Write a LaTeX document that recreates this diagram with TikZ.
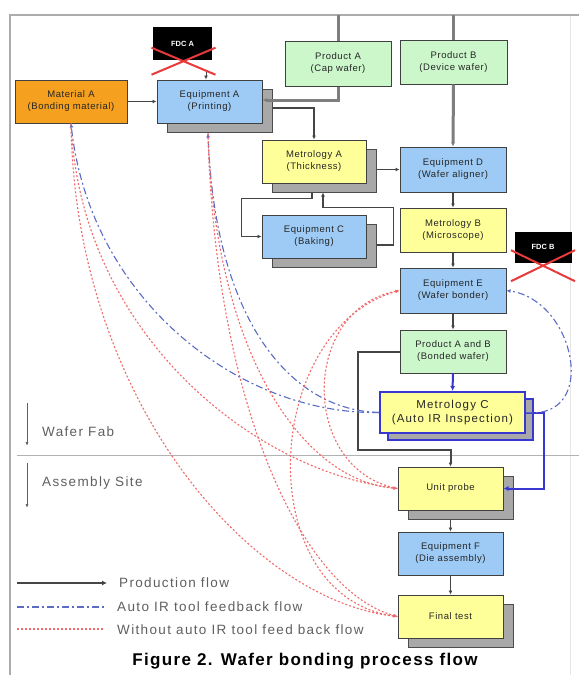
\documentclass[tikz,border=0pt]{standalone}
\usepackage{fontspec}
\setmainfont{Liberation Sans}
\newfontfamily\lsfont[LetterSpace=6]{Liberation Sans}
\newfontfamily\mcfont[LetterSpace=10]{Liberation Sans}
\newfontfamily\lgfont[LetterSpace=10]{Liberation Sans}
\newfontfamily\capfont[LetterSpace=8]{Liberation Sans}
\usetikzlibrary{arrows.meta,shadows}
\definecolor{borange}{HTML}{F5A01E}
\definecolor{bblue}{HTML}{9DCBF5}
\definecolor{bgreen}{HTML}{CBF7CB}
\definecolor{byellow}{HTML}{FFFF99}
\definecolor{sgray}{HTML}{A8A8A8}
\definecolor{prod}{HTML}{454545}
\definecolor{pgray}{HTML}{7E7E7E}
\definecolor{irblue}{HTML}{3838D0}
\definecolor{fbblue}{HTML}{5C6CC4}
\definecolor{fbred}{HTML}{F06A6A}
\definecolor{xred}{HTML}{E83A3A}
\definecolor{txtgray}{HTML}{606060}
\begin{document}
\begin{tikzpicture}[x=1pt,y=-1pt,
  box/.style={draw=black!75, line width=1pt, minimum width=105pt, minimum height=43pt,
    inner sep=1pt, align=center, font=\lsfont\fontsize{9.5}{12}\selectfont, text=black!85},
  shad/.style={general shadow={shadow xshift=10pt, shadow yshift=-9pt, fill=sgray, draw=black!70, line width=1pt}},
  fdc/.style={fill=black, draw=black, minimum width=58pt, minimum height=32pt, inner sep=0pt,
    text=white, font=\bfseries\fontsize{7.5}{8}\selectfont},
  pflow/.style={draw=prod, line width=1.4pt, -{Latex[length=4pt,width=4pt]}},
  pthick/.style={draw=pgray, line width=3pt},
  irflow/.style={draw=irblue, line width=2pt, -{Latex[length=5pt,width=5pt]}},
  fbb/.style={draw=fbblue, line width=1.1pt, dash pattern=on 7pt off 3pt on 2pt off 3pt,
    -{Latex[length=4pt,width=4pt]}},
  fbr/.style={draw=fbred, line width=1.1pt, dash pattern=on 2pt off 2pt,
    -{Latex[length=4pt,width=3.5pt]}},
  xmark/.style={draw=xred, line width=2pt},
  lgtext/.style={anchor=west, text=txtgray, font=\lgfont\fontsize{13.5}{15}\selectfont, inner sep=0pt},
  regtext/.style={anchor=west, text=txtgray, font=\lgfont\fontsize{13.5}{15}\selectfont, inner sep=0pt},
  regarrow/.style={draw=txtgray, line width=1pt, -{Latex[length=4pt,width=3pt]}}
]
\useasboundingbox (0,0) rectangle (579,675);
\fill[white] (0,0) rectangle (579,675);
% frame
\draw[gray!65, line width=2pt] (10,675) -- (10,15) -- (579,15);
\draw[gray!20, line width=1pt] (570,16) -- (570,675);
% separator
\draw[gray!60, line width=0.8pt] (17,455) -- (579,455);

% nodes
\node[box, fill=borange, minimum width=112pt] (matA) at (71,101.5) {Material A\\(Bonding material)};
\node[box, shad, fill=bblue] (eqA) at (209.5,101.5) {Equipment A\\(Printing)};
\node[fdc] (fdcA) at (182.5,43.5) {FDC A};
\node[box, fill=bgreen, minimum width=106pt, minimum height=45pt] (prA) at (338,63.5) {Product A\\(Cap wafer)};
\node[box, fill=bgreen, minimum width=107pt, minimum height=44pt] (prB) at (453.5,62) {Product B\\(Device wafer)};
\node[box, shad, fill=byellow, minimum width=104pt] (metA) at (314,161.5) {Metrology A\\(Thickness)};
\node[box, fill=bblue, minimum width=106pt, minimum height=45pt] (eqD) at (453,169.5) {Equipment D\\(Wafer aligner)};
\node[box, shad, fill=bblue, minimum width=104pt] (eqC) at (314,236.5) {Equipment C\\(Baking)};
\node[box, fill=byellow, minimum width=106pt, minimum height=44pt] (metB) at (453,230) {Metrology B\\(Microscope)};
\node[fdc, minimum width=56pt, minimum height=30pt] (fdcB) at (543,247) {FDC B};
\node[box, fill=bblue, minimum width=106pt, minimum height=45pt] (eqE) at (453,290.5) {Equipment E\\(Wafer bonder)};
\node[box, fill=bgreen, minimum width=106pt] (prAB) at (453,351.5) {Product A and B\\(Bonded wafer)};
\node[box, fill=byellow, draw=irblue, line width=2pt, minimum width=145pt, minimum height=41pt,
  font=\mcfont\fontsize{11.5}{14}\selectfont,
  general shadow={shadow xshift=8pt, shadow yshift=-7pt, fill=sgray, draw=irblue, line width=1.5pt}]
  (metC) at (452.5,412.5) {Metrology C\\(Auto IR Inspection)};
\node[box, shad, fill=byellow] (unit) at (450.5,488.5) {Unit probe};
\node[box, fill=bblue] (eqF) at (450.5,553.5) {Equipment F\\(Die assembly)};
\node[box, shad, fill=byellow] (final) at (450.5,616.5) {Final test};

% red crosses over FDC boxes
\draw[xmark] ([shift={(-31,-12)}]fdcA.south) -- ([shift={(33,15)}]fdcA.south)
             ([shift={(-31,15)}]fdcA.south) -- ([shift={(33,-12)}]fdcA.south);
\draw[xmark] ([shift={(-32,-12)}]fdcB.south) -- ([shift={(32,19)}]fdcB.south)
             ([shift={(-32,19)}]fdcB.south) -- ([shift={(32,-12)}]fdcB.south);

% feed lines from the top
\coordinate (topA) at (338,15);
\coordinate (topB) at (453.5,15);
\draw[pthick] (topA) -- (prA.north);
\draw[pthick] (topB) -- (prB.north);

% production flow
\draw[pflow] (matA.east) -- (eqA.west);
\coordinate (fdcAend) at (206,72);
\draw[pflow, line width=1pt] (fdcAend) -- (eqA.north -| fdcAend);
\draw[pthick, -{Latex[length=4pt,width=4pt]}] (prA.south) |- ([shift={(0,-1.5)}]eqA.east);
\draw[pflow] ([shift={(10,6.5)}]eqA.east) -| (metA.north);
\draw[pthick, -{Latex[length=4pt,width=4pt]}] (prB.south) -- (eqD.north);
\coordinate (metAs) at ([xshift=10pt]metA.east);
\draw[pflow] (metAs |- eqD.west) -- (eqD.west);
\draw[pflow] ([shift={(-2,9)}]metA.south) -- ++(0,6) -| ([xshift=-20pt]eqC.west) -- (eqC.west);
\draw[pflow] ([shift={(10,8.5)}]eqC.east) -- ++(17,0) |- ([shift={(9,24)}]metA.south) -- ([shift={(9,9)}]metA.south);
\draw[pflow] (eqD.south) -- (metB.north);
\draw[pflow] (metB.south) -- (eqE.north);
\draw[pflow] (eqE.south) -- (prAB.north);
\draw[pflow, line width=2pt] (prAB.west) -- ++(-42,0) |- ([shift={(0,-17)}]unit.north) -- (unit.north);
\draw[pflow] ([yshift=-9pt]unit.south) -- (eqF.north);
\draw[pflow] (eqF.south) -- (final.north);

% auto IR flow
\draw[irflow] (prAB.south) -- (metC.north);
\draw[irflow] (metC.east) -- ++(18,0) |- (unit.east);

% auto IR feedback (blue dash-dot)
\draw[fbb] (metC.west) .. controls (240,415) and (90,300) .. (matA.south);
\draw[fbb] (metC.west) .. controls (290,410) and (215,320) .. ([shift={(-1.5,10)}]eqA.south);
\draw[fbb] (metC.east) .. controls (600,420) and (575,300) .. (eqE.east);

% without auto IR feedback (red dotted)
\draw[fbr] (matA.south) .. controls (80,330) and (250,470) .. (unit.west);
\draw[fbr] (matA.south) .. controls (75,400) and (250,600) .. (final.west);
\draw[fbr] ([shift={(-1.5,10)}]eqA.south) .. controls (215,350) and (300,480) .. (unit.west);
\draw[fbr] ([shift={(-1.5,10)}]eqA.south) .. controls (215,400) and (300,590) .. (final.west);
\draw[fbr] (unit.west) .. controls (300,470) and (300,310) .. (eqE.west);
\draw[fbr] (final.west) .. controls (250,600) and (260,330) .. (eqE.west);

% regions
\coordinate (wfa) at (27,403);
\coordinate (wfb) at (27,446);
\coordinate (asa) at (27,463);
\coordinate (asb) at (27,508);
\draw[regarrow] (wfa) -- (wfb);
\draw[regarrow] (asa) -- (asb);
\node[regtext] (wf) at (42,432) {Wafer Fab};
\node[regtext] (as) at (42,483) {Assembly Site};

% legend
\coordinate (l1a) at (17,583);
\coordinate (l1b) at (107,583);
\coordinate (l2a) at (17,607);
\coordinate (l2b) at (104,607);
\coordinate (l3a) at (17,629);
\coordinate (l3b) at (104,629);
\draw[draw=prod, line width=2.5pt, -{Latex[length=5pt,width=5pt]}] (l1a) -- (l1b);
\draw[fbb, line width=1.3pt, -] (l2a) -- (l2b);
\draw[fbr, line width=1.3pt, -] (l3a) -- (l3b);
\node[lgtext] (lt1) at (119,583) {Production flow};
\node[lgtext] (lt2) at (117,607) {Auto IR tool feedback flow};
\node[lgtext] (lt3) at (117,630) {Without auto IR tool feed back flow};

% caption
\node[font=\capfont\bfseries\fontsize{17}{19}\selectfont, inner sep=0pt] (cap) at (305,661) {Figure 2. Wafer bonding process flow};
\end{tikzpicture}
\end{document}
